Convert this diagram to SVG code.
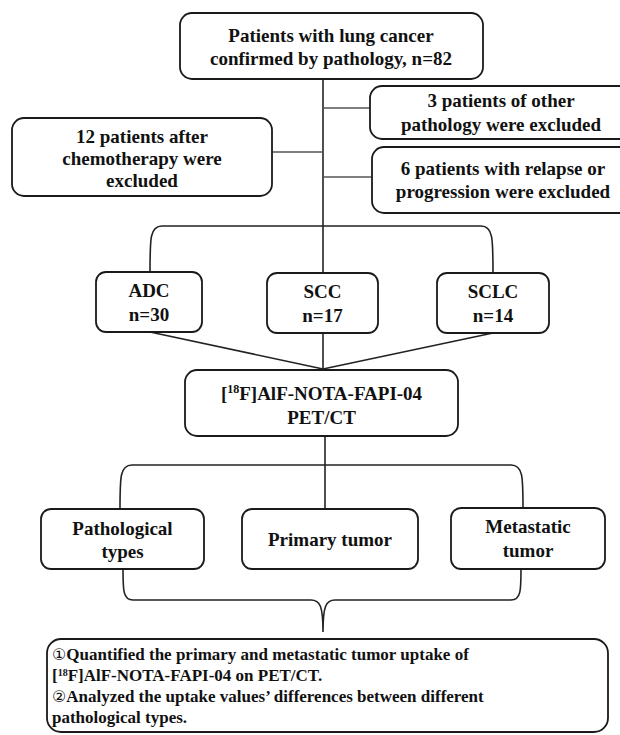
<svg xmlns="http://www.w3.org/2000/svg" width="620" height="735" viewBox="0 0 620 735">
<style>
.box{fill:#fff;stroke:#1a1a1a;stroke-width:1.8}
.t{font-family:"Liberation Serif","Times New Roman",serif;font-weight:bold;font-size:19px;fill:#111;text-anchor:middle}
.tb{font-family:"Liberation Serif","Times New Roman",serif;font-weight:bold;font-size:17px;fill:#111}
.c{fill:none;stroke:#222;stroke-width:1.6}
.cg{fill:none;stroke:#555;stroke-width:1.6}
.cn{font-family:"DejaVu Sans",sans-serif;font-weight:normal;font-size:16px}
</style>
<rect width="620" height="735" fill="#fff"/>
<g id="connectors">
<path class="c" d="M323,79 L323,273"/>
<path class="cg" d="M323,108 L370,108"/>
<path class="cg" d="M272,152 L323,152"/>
<path class="cg" d="M323,177 L372,177"/>
<path class="c" d="M150,272 C150,238 150,226 162,226 L481,226 C493,226 493,238 493,273"/>
<path class="c" d="M150,332 L323,369"/>
<path class="c" d="M323,333 L323,369"/>
<path class="c" d="M493,333 L323,369"/>
<path class="c" d="M325,436 L325,509"/>
<path class="c" d="M120,509 C120,477 120,465 132,465 L511,465 C523,465 523,477 523,508"/>
<path class="c" d="M123,569 C123,590 123,600 133,600 L311,600 C320,600 323,606 323,632 C323,606 326,600 335,600 L511,600 C521,600 521,590 521,569"/>
</g>
<g id="n_top"><rect class="box" x="180" y="13" width="303" height="66" rx="12"/>
<text class="t" x="331" y="42">Patients with lung cancer</text><text class="t" x="331" y="65">confirmed by pathology, n=82</text></g>
<g id="n_other"><rect class="box" x="370" y="86" width="262" height="53" rx="12"/>
<text class="t" x="501" y="107">3 patients of other</text><text class="t" x="501" y="131">pathology were excluded</text></g>
<g id="n_chemo"><rect class="box" x="12" y="118" width="260" height="78" rx="12"/>
<text class="t" x="142" y="143">12 patients after</text><text class="t" x="142" y="165">chemotherapy were</text><text class="t" x="142" y="187">excluded</text></g>
<g id="n_relapse"><rect class="box" x="372" y="147" width="260" height="66" rx="12"/>
<text class="t" x="503" y="175">6 patients with relapse or</text><text class="t" x="503" y="198">progression were excluded</text></g>
<g id="n_adc"><rect class="box" x="96" y="272" width="106" height="60" rx="10"/>
<text class="t" x="149" y="297">ADC</text><text class="t" x="149" y="321">n=30</text></g>
<g id="n_scc"><rect class="box" x="267" y="273" width="111" height="60" rx="10"/>
<text class="t" x="322.5" y="298">SCC</text><text class="t" x="322.5" y="322">n=17</text></g>
<g id="n_sclc"><rect class="box" x="437" y="273" width="112" height="60" rx="10"/>
<text class="t" x="493" y="298">SCLC</text><text class="t" x="493" y="322">n=14</text></g>
<g id="n_pet"><rect class="box" x="185" y="370" width="273" height="66" rx="12"/>
<text class="t" x="321.5" y="400">[<tspan font-size="12" dy="-7">18</tspan><tspan dy="7">F]AlF-NOTA-FAPI-04</tspan></text><text class="t" x="321.5" y="424">PET/CT</text></g>
<g id="n_path"><rect class="box" x="41" y="509" width="163" height="60" rx="10"/>
<text class="t" x="122.5" y="535">Pathological</text><text class="t" x="122.5" y="558">types</text></g>
<g id="n_primary"><rect class="box" x="242" y="509" width="176" height="60" rx="10"/>
<text class="t" x="330" y="546">Primary tumor</text></g>
<g id="n_meta"><rect class="box" x="451" y="508" width="154" height="61" rx="10"/>
<text class="t" x="528" y="533">Metastatic</text><text class="t" x="528" y="557">tumor</text></g>
<g id="n_result"><rect class="box" x="47" y="639" width="561" height="93" rx="14"/>
<text class="tb" x="52" y="660"><tspan class="cn">①</tspan>Quantified the primary and metastatic tumor uptake of</text>
<text class="tb" x="52" y="681">[<tspan font-size="10" dy="-5">18</tspan><tspan dy="5">F]AlF-NOTA-FAPI-04 on PET/CT.</tspan></text>
<text class="tb" x="52" y="702"><tspan class="cn">②</tspan>Analyzed the uptake values’ differences between different</text>
<text class="tb" x="52" y="723">pathological types.</text></g>
</svg>
